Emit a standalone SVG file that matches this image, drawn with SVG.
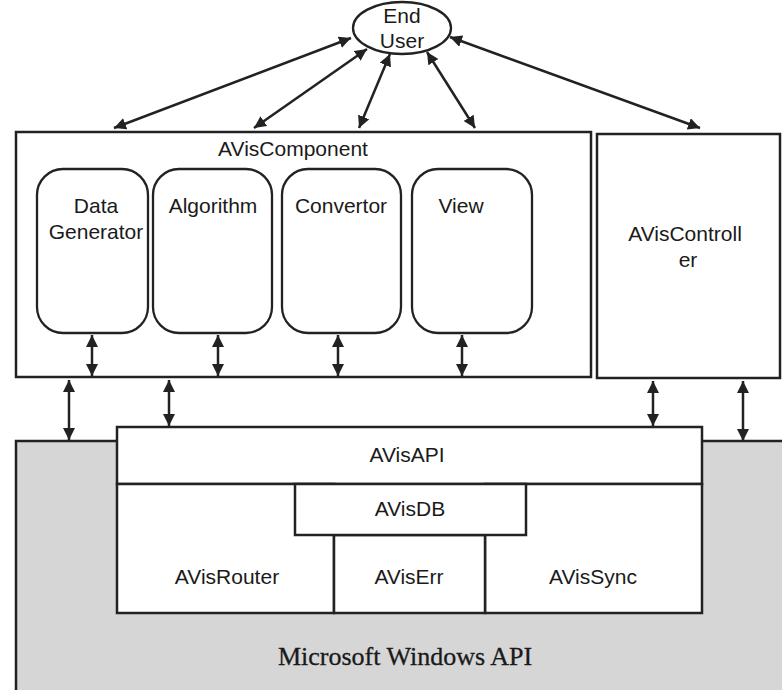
<svg xmlns="http://www.w3.org/2000/svg" width="782" height="690" viewBox="0 0 782 690">
<style>
.box{fill:#fff;stroke:#222;stroke-width:2.5}
.rr{fill:#fff;stroke:#222;stroke-width:2.3}
.t{font-family:"Liberation Sans",Arial,sans-serif;font-size:21px;fill:#1a1a1a;text-anchor:middle}
.ms{font-family:"Liberation Serif","Times New Roman",serif;font-size:26px;fill:#1a1a1a;text-anchor:middle;stroke:#1a1a1a;stroke-width:0.3}
.ar{stroke:#222;stroke-width:2.5;fill:none;marker-start:url(#ah);marker-end:url(#ah)}
</style>
<defs>
<marker id="ah" viewBox="0 0 10 10" refX="10" refY="5" markerWidth="12" markerHeight="12" markerUnits="userSpaceOnUse" orient="auto-start-reverse">
<path d="M0,0 L10,5 L0,10 z" fill="#222"/>
</marker>
</defs>
<rect width="782" height="690" fill="#fff"/>

<g id="windows">
<rect x="16" y="441" width="780" height="260" fill="#d6d6d6" stroke="#222" stroke-width="2.5"/>
<text class="ms" x="405" y="665">Microsoft Windows API</text>
</g>

<g id="avisapi">
<rect class="box" x="117" y="427" width="585" height="57"/>
<text class="t" x="407" y="462">AVisAPI</text>
</g>
<g id="avisrouter">
<rect class="box" x="117" y="484" width="217" height="129"/>
<text class="t" x="227" y="584">AVisRouter</text>
</g>
<g id="avissync">
<rect class="box" x="485" y="484" width="217" height="129"/>
<text class="t" x="593" y="584">AVisSync</text>
</g>
<g id="aviserr">
<rect class="box" x="334" y="535" width="151" height="78"/>
<text class="t" x="409" y="584">AVisErr</text>
</g>
<g id="avisdb">
<rect class="box" x="295" y="484" width="231" height="51"/>
<text class="t" x="410" y="516">AVisDB</text>
</g>

<g id="aviscomponent">
<rect class="box" x="16" y="132" width="575" height="245"/>
<text class="t" x="293" y="156">AVisComponent</text>
</g>
<g id="datagenerator">
<rect class="rr" x="37" y="169" width="111" height="164" rx="26" ry="26"/>
<text class="t" x="96" y="213">Data</text>
<text class="t" x="96" y="239">Generator</text>
</g>
<g id="algorithm">
<rect class="rr" x="153" y="169" width="119" height="164" rx="26" ry="26"/>
<text class="t" x="213" y="213">Algorithm</text>
</g>
<g id="convertor">
<rect class="rr" x="282" y="169" width="119" height="164" rx="26" ry="26"/>
<text class="t" x="341" y="213">Convertor</text>
</g>
<g id="view">
<rect class="rr" x="412" y="169" width="120" height="164" rx="26" ry="26"/>
<text class="t" x="461" y="213">View</text>
</g>

<g id="aviscontroller">
<rect class="box" x="597" y="134" width="183" height="244"/>
<text class="t" x="685" y="241">AVisControll</text>
<text class="t" x="688" y="267">er</text>
</g>

<g id="enduser">
<ellipse cx="402" cy="28" rx="49" ry="26" fill="#fff" stroke="#222" stroke-width="2.3"/>
<text class="t" x="402" y="23">End</text>
<text class="t" x="402" y="48">User</text>
</g>

<g id="connectors">
<line class="ar" x1="351" y1="38" x2="114" y2="128"/>
<line class="ar" x1="367" y1="49" x2="254" y2="128"/>
<line class="ar" x1="390" y1="54" x2="359" y2="128"/>
<line class="ar" x1="427" y1="52" x2="475" y2="128"/>
<line class="ar" x1="450" y1="37" x2="700" y2="128"/>
<line class="ar" x1="92" y1="335" x2="92" y2="376"/>
<line class="ar" x1="218" y1="335" x2="218" y2="376"/>
<line class="ar" x1="338" y1="335" x2="338" y2="376"/>
<line class="ar" x1="462" y1="335" x2="462" y2="376"/>
<line class="ar" x1="69" y1="380" x2="69" y2="440"/>
<line class="ar" x1="169" y1="380" x2="169" y2="426"/>
<line class="ar" x1="653" y1="381" x2="653" y2="426"/>
<line class="ar" x1="743" y1="381" x2="743" y2="441"/>
</g>
</svg>
